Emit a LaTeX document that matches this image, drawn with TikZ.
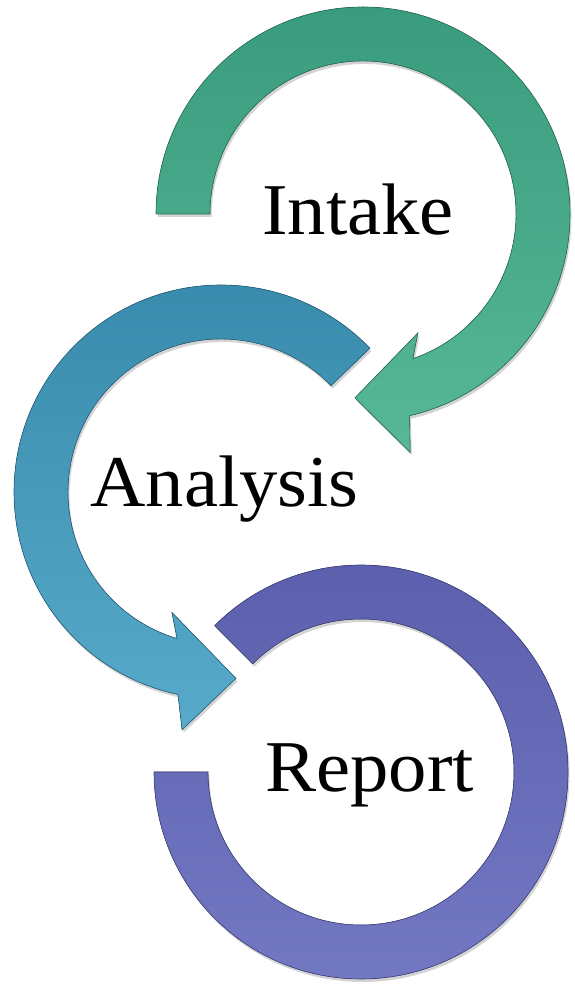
\documentclass[tikz,border=0pt]{standalone}
\usepackage{fontspec}
\setmainfont[FakeStretch=1.05]{Liberation Serif}
\usepackage{tikz}
\usetikzlibrary{shadows}
\usetikzlibrary{positioning}
\definecolor{mgreen}{RGB}{58, 156, 126}
\definecolor{mgreenl}{RGB}{86, 184, 150}
\definecolor{mblue}{RGB}{56, 138, 172}
\definecolor{mbluel}{RGB}{88, 170, 202}
\definecolor{mpurple}{RGB}{90, 94, 172}
\definecolor{mpurplel}{RGB}{116, 121, 196}

\tikzset{
  ring/.style={line width=0.6pt, drop shadow={opacity=0.35, shadow xshift=1.5pt, shadow yshift=-3pt}},
  steplabel/.style={anchor=base, inner sep=0pt, font=\fontsize{73}{80}\selectfont}
}

\begin{document}
\begin{tikzpicture}[x=1pt, y=1pt]
    \useasboundingbox (0, 0) rectangle (575, 987);

    \begin{scope}[shift={(363, 773)}]
      \fill [ring, top color=mgreen, bottom color=mgreenl, draw=mgreen!70!black]
        (180:207) arc[start angle=180, end angle=-77, radius=207]
        -- (-78.8:243) -- (-92.5:184) -- (-65.2:131) -- (-71:153)
        arc[start angle=-71, end angle=180, radius=153] -- cycle;
    \end{scope}

    \begin{scope}[shift={(221, 495)}]
      \fill [ring, top color=mblue, bottom color=mbluel, draw=mblue!70!black]
        (44:207) arc[start angle=44, end angle=258, radius=207]
        -- (260.7:241) -- (274.6:187) -- (247.8:130) -- (253.3:153)
        arc[start angle=253.3, end angle=44, radius=153] -- cycle;
    \end{scope}

    \begin{scope}[shift={(361, 215)}]
      \fill [ring, top color=mpurple, bottom color=mpurplel, draw=mpurple!70!black]
        (135:207) arc[start angle=135, end angle=-180, radius=207]
        -- (180:153) arc[start angle=-180, end angle=135, radius=153] -- cycle;
    \end{scope}

    \node [steplabel] (intake) at (358, 752) {Intake};
    \node [steplabel] (analysis) at (224.5, 480) {Analysis};
    \node [steplabel] (report) at (369.5, 195) {Report};
  \end{tikzpicture}
\end{document}
